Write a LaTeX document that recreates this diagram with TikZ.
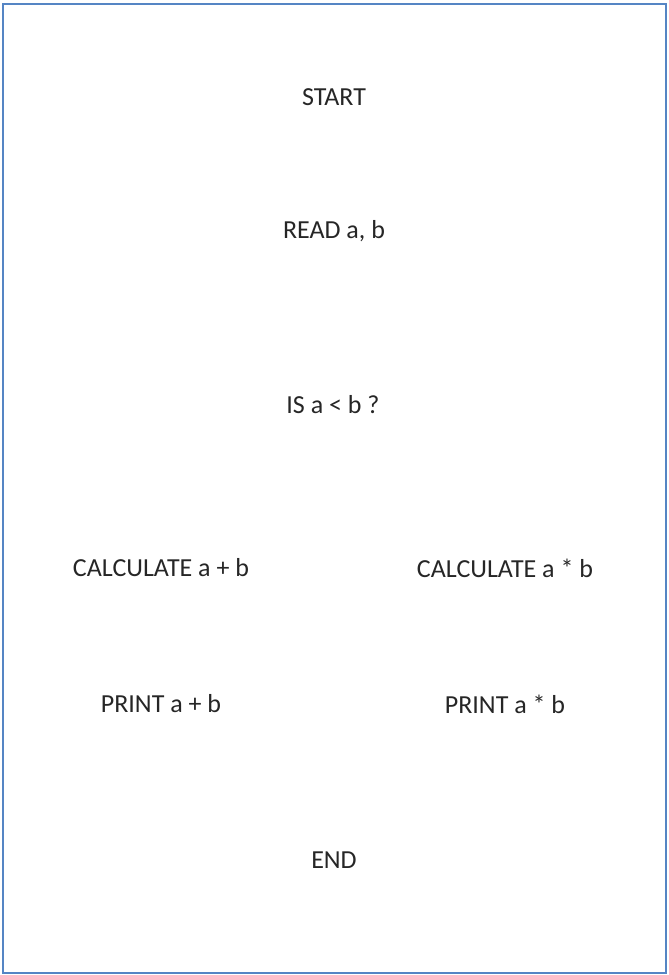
\documentclass[tikz,border=0pt]{standalone}
\usepackage{fontspec}
\setmainfont{Carlito}
\usepackage{xcolor}
\usepackage{tikz}
\usetikzlibrary{positioning}

\definecolor{frameblue}{HTML}{5585C4}
\definecolor{textgrey}{HTML}{262626}

\begin{document}
\begin{tikzpicture}[
  x=0.5pt,
  y=-0.5pt,
  frame/.style={draw=frameblue,line width=1.1pt},
  stepbox/.style={inner sep=0pt,text=textgrey,font=\fontsize{13}{15}\selectfont}
]
  \useasboundingbox (0,0) rectangle (669,975);
  \draw[frame] (3,4) rectangle (666,973);

  \node[stepbox] (start) at (334,97) {START};
  \node[stepbox] (read) at (334,231) {READ a, b};
  \node[stepbox] (test) at (333,405) {IS a {<} b ?};
  \node[stepbox] (sum) at (161,568) {CALCULATE a + b};
  \node[stepbox] (prod) at (505,568) {CALCULATE a * b};
  \node[stepbox] (psum) at (161,704) {PRINT a + b};
  \node[stepbox] (pprod) at (505,704) {PRINT a * b};
  \node[stepbox] (end) at (334,860) {END};
\end{tikzpicture}
\end{document}
